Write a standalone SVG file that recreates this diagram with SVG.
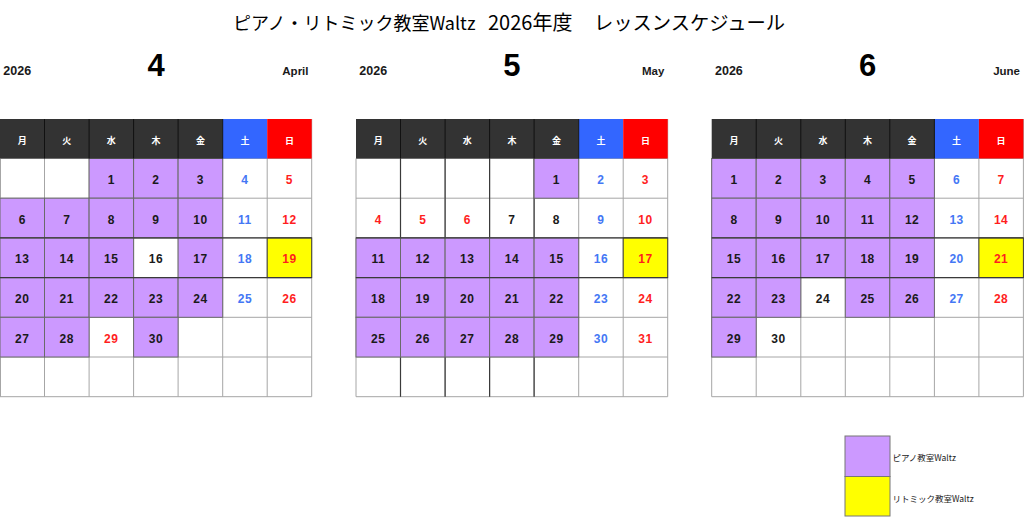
<svg xmlns="http://www.w3.org/2000/svg" width="1024" height="517" viewBox="0 0 1024 517">
<style>
.bg{fill:#ffffff}
.gl{fill:none;stroke:#a6a6a6;stroke-width:1}
.dl{fill:none;stroke:#3a3a3a;stroke-width:1.2}
.pu{fill:#CC99FF;stroke:#6a6a6a;stroke-width:1}
.ye{fill:#FFFF00;stroke:#3a3a3a;stroke-width:1}
.hd{fill:#333333}
.sa{fill:#3366FF}
.su{fill:#FF0000}
.hs{fill:none;stroke:#111111;stroke-width:1}
.ht{fill:#ffffff;font-family:"Noto Sans CJK JP","Noto Sans CJK SC",sans-serif;font-size:9px;font-weight:bold;text-anchor:middle}
.n{fill:#1a1a1a;font-family:"Liberation Sans",Arial,sans-serif;font-size:12px;font-weight:bold;text-anchor:middle;letter-spacing:0.5px}
.b{fill:#4477F5}
.r{fill:#FF1E1E}
.yr{fill:#1a1a1a;font-family:"Liberation Sans",Arial,sans-serif;font-size:12.5px;font-weight:bold}
.mn{fill:#000000;font-family:"Liberation Sans",Arial,sans-serif;font-size:31px;font-weight:bold;text-anchor:middle}
.en{fill:#1a1a1a;font-family:"Liberation Sans",Arial,sans-serif;font-size:11.5px;font-weight:bold;text-anchor:end}
.tt{fill:#000000;font-family:"Noto Sans CJK JP","Noto Sans CJK SC",sans-serif;font-size:20px}
.lg{fill:#1a1a1a;font-family:"Noto Sans CJK JP","Noto Sans CJK SC",sans-serif;font-size:8.5px}
.lb{stroke:#777777;stroke-width:1}
</style>
<rect width="1024" height="517" fill="#ffffff"/>

<g id="title">
<text class="tt" y="30"><tspan x="233" font-size="18">ピアノ・リトミック教室Waltz</tspan><tspan x="488">2026年度</tspan><tspan x="594" font-size="19.3">レッスンスケジュール</tspan></text>
</g>

<g id="april">
<text class="yr" x="3.3" y="75">2026</text>
<text class="mn" x="156" y="76">4</text>
<text class="en" x="308.5" y="75">April</text>
<rect class="bg" x="0" y="158.5" width="311.7" height="238.2"/>
<path class="gl" d="M0 158.5H311.7M0 198.2H311.7M0 237.9H311.7M0 277.6H311.7M0 317.3H311.7M0 357H311.7M0 396.7H311.7M0.5 158.5V396.7M44.5 158.5V396.7M89.1 158.5V396.7M133.6 158.5V396.7M178.1 158.5V396.7M222.7 158.5V396.7M267.2 158.5V396.7M311.7 119V396.7"/>
<rect class="pu" x="89.1" y="158.5" width="44.5" height="39.7"/>
<rect class="pu" x="133.6" y="158.5" width="44.5" height="39.7"/>
<rect class="pu" x="178.1" y="158.5" width="44.6" height="39.7"/>
<rect class="pu" x="0" y="198.2" width="44.5" height="39.7"/>
<rect class="pu" x="44.5" y="198.2" width="44.6" height="39.7"/>
<rect class="pu" x="89.1" y="198.2" width="44.5" height="39.7"/>
<rect class="pu" x="133.6" y="198.2" width="44.5" height="39.7"/>
<rect class="pu" x="178.1" y="198.2" width="44.6" height="39.7"/>
<rect class="pu" x="0" y="237.9" width="44.5" height="39.7"/>
<rect class="pu" x="44.5" y="237.9" width="44.6" height="39.7"/>
<rect class="pu" x="89.1" y="237.9" width="44.5" height="39.7"/>
<rect class="pu" x="178.1" y="237.9" width="44.6" height="39.7"/>
<rect class="ye" x="267.2" y="237.9" width="44.5" height="39.7"/>
<rect class="pu" x="0" y="277.6" width="44.5" height="39.7"/>
<rect class="pu" x="44.5" y="277.6" width="44.6" height="39.7"/>
<rect class="pu" x="89.1" y="277.6" width="44.5" height="39.7"/>
<rect class="pu" x="133.6" y="277.6" width="44.5" height="39.7"/>
<rect class="pu" x="178.1" y="277.6" width="44.6" height="39.7"/>
<rect class="pu" x="0" y="317.3" width="44.5" height="39.7"/>
<rect class="pu" x="44.5" y="317.3" width="44.6" height="39.7"/>
<rect class="pu" x="133.6" y="317.3" width="44.5" height="39.7"/>
<path class="dl" d="M0 237.9H311.7M0 277.6H311.7"/>
<rect class="hd" x="0" y="119" width="222.7" height="39.5"/>
<rect class="sa" x="222.7" y="119" width="44.5" height="39.5"/>
<rect class="su" x="267.2" y="119" width="44.5" height="39.5"/>
<path class="hs" d="M44.5 119V158.5M89.1 119V158.5M133.6 119V158.5M178.1 119V158.5M222.7 119V158.5"/>
<text class="ht" x="22.3" y="143.5">月</text>
<text class="ht" x="66.8" y="143.5">火</text>
<text class="ht" x="111.3" y="143.5">水</text>
<text class="ht" x="155.9" y="143.5">木</text>
<text class="ht" x="200.4" y="143.5">金</text>
<text class="ht" x="244.9" y="143.5">土</text>
<text class="ht" x="289.4" y="143.5">日</text>
<text class="n" x="111.3" y="184">1</text>
<text class="n" x="155.9" y="184">2</text>
<text class="n" x="200.4" y="184">3</text>
<text class="n b" x="244.9" y="184">4</text>
<text class="n r" x="289.4" y="184">5</text>
<text class="n" x="22.3" y="223.7">6</text>
<text class="n" x="66.8" y="223.7">7</text>
<text class="n" x="111.3" y="223.7">8</text>
<text class="n" x="155.9" y="223.7">9</text>
<text class="n" x="200.4" y="223.7">10</text>
<text class="n b" x="244.9" y="223.7">11</text>
<text class="n r" x="289.4" y="223.7">12</text>
<text class="n" x="22.3" y="263.4">13</text>
<text class="n" x="66.8" y="263.4">14</text>
<text class="n" x="111.3" y="263.4">15</text>
<text class="n" x="155.9" y="263.4">16</text>
<text class="n" x="200.4" y="263.4">17</text>
<text class="n b" x="244.9" y="263.4">18</text>
<text class="n r" x="289.4" y="263.4">19</text>
<text class="n" x="22.3" y="303.1">20</text>
<text class="n" x="66.8" y="303.1">21</text>
<text class="n" x="111.3" y="303.1">22</text>
<text class="n" x="155.9" y="303.1">23</text>
<text class="n" x="200.4" y="303.1">24</text>
<text class="n b" x="244.9" y="303.1">25</text>
<text class="n r" x="289.4" y="303.1">26</text>
<text class="n" x="22.3" y="342.8">27</text>
<text class="n" x="66.8" y="342.8">28</text>
<text class="n r" x="111.3" y="342.8">29</text>
<text class="n" x="155.9" y="342.8">30</text>
</g>

<g id="may">
<text class="yr" x="359.3" y="75">2026</text>
<text class="mn" x="511.9" y="76">5</text>
<text class="en" x="664.4" y="75">May</text>
<rect class="bg" x="356" y="158.5" width="311.7" height="238.2"/>
<path class="gl" d="M356 158.5H667.7M356 198.2H667.7M356 237.9H667.7M356 277.6H667.7M356 317.3H667.7M356 357H667.7M356 396.7H667.7M356 158.5V396.7M400.5 158.5V396.7M445.1 158.5V396.7M489.6 158.5V396.7M534.1 158.5V396.7M578.7 158.5V396.7M623.2 158.5V396.7M667.7 119V396.7"/>
<path class="dl" d="M400.5 158.5V396.7M445.1 158.5V396.7M489.6 158.5V396.7M534.1 158.5V396.7"/>
<rect class="pu" x="534.1" y="158.5" width="44.6" height="39.7"/>
<rect class="pu" x="356" y="237.9" width="44.5" height="39.7"/>
<rect class="pu" x="400.5" y="237.9" width="44.6" height="39.7"/>
<rect class="pu" x="445.1" y="237.9" width="44.5" height="39.7"/>
<rect class="pu" x="489.6" y="237.9" width="44.5" height="39.7"/>
<rect class="pu" x="534.1" y="237.9" width="44.6" height="39.7"/>
<rect class="ye" x="623.2" y="237.9" width="44.5" height="39.7"/>
<rect class="pu" x="356" y="277.6" width="44.5" height="39.7"/>
<rect class="pu" x="400.5" y="277.6" width="44.6" height="39.7"/>
<rect class="pu" x="445.1" y="277.6" width="44.5" height="39.7"/>
<rect class="pu" x="489.6" y="277.6" width="44.5" height="39.7"/>
<rect class="pu" x="534.1" y="277.6" width="44.6" height="39.7"/>
<rect class="pu" x="356" y="317.3" width="44.5" height="39.7"/>
<rect class="pu" x="400.5" y="317.3" width="44.6" height="39.7"/>
<rect class="pu" x="445.1" y="317.3" width="44.5" height="39.7"/>
<rect class="pu" x="489.6" y="317.3" width="44.5" height="39.7"/>
<rect class="pu" x="534.1" y="317.3" width="44.6" height="39.7"/>
<path class="dl" d="M356 237.9H667.7M356 277.6H667.7"/>
<rect class="hd" x="356" y="119" width="222.7" height="39.5"/>
<rect class="sa" x="578.7" y="119" width="44.5" height="39.5"/>
<rect class="su" x="623.2" y="119" width="44.5" height="39.5"/>
<path class="hs" d="M400.5 119V158.5M445.1 119V158.5M489.6 119V158.5M534.1 119V158.5M578.7 119V158.5"/>
<text class="ht" x="378.3" y="143.5">月</text>
<text class="ht" x="422.8" y="143.5">火</text>
<text class="ht" x="467.3" y="143.5">水</text>
<text class="ht" x="511.9" y="143.5">木</text>
<text class="ht" x="556.4" y="143.5">金</text>
<text class="ht" x="600.9" y="143.5">土</text>
<text class="ht" x="645.4" y="143.5">日</text>
<text class="n" x="556.4" y="184">1</text>
<text class="n b" x="600.9" y="184">2</text>
<text class="n r" x="645.4" y="184">3</text>
<text class="n r" x="378.3" y="223.7">4</text>
<text class="n r" x="422.8" y="223.7">5</text>
<text class="n r" x="467.3" y="223.7">6</text>
<text class="n" x="511.9" y="223.7">7</text>
<text class="n" x="556.4" y="223.7">8</text>
<text class="n b" x="600.9" y="223.7">9</text>
<text class="n r" x="645.4" y="223.7">10</text>
<text class="n" x="378.3" y="263.4">11</text>
<text class="n" x="422.8" y="263.4">12</text>
<text class="n" x="467.3" y="263.4">13</text>
<text class="n" x="511.9" y="263.4">14</text>
<text class="n" x="556.4" y="263.4">15</text>
<text class="n b" x="600.9" y="263.4">16</text>
<text class="n r" x="645.4" y="263.4">17</text>
<text class="n" x="378.3" y="303.1">18</text>
<text class="n" x="422.8" y="303.1">19</text>
<text class="n" x="467.3" y="303.1">20</text>
<text class="n" x="511.9" y="303.1">21</text>
<text class="n" x="556.4" y="303.1">22</text>
<text class="n b" x="600.9" y="303.1">23</text>
<text class="n r" x="645.4" y="303.1">24</text>
<text class="n" x="378.3" y="342.8">25</text>
<text class="n" x="422.8" y="342.8">26</text>
<text class="n" x="467.3" y="342.8">27</text>
<text class="n" x="511.9" y="342.8">28</text>
<text class="n" x="556.4" y="342.8">29</text>
<text class="n b" x="600.9" y="342.8">30</text>
<text class="n r" x="645.4" y="342.8">31</text>
</g>

<g id="june">
<text class="yr" x="715" y="75">2026</text>
<text class="mn" x="867.6" y="76">6</text>
<text class="en" x="1020" y="75">June</text>
<rect class="bg" x="711.7" y="158.5" width="311.7" height="238.2"/>
<path class="gl" d="M711.7 158.5H1023.4M711.7 198.2H1023.4M711.7 237.9H1023.4M711.7 277.6H1023.4M711.7 317.3H1023.4M711.7 357H1023.4M711.7 396.7H1023.4M711.7 158.5V396.7M756.2 158.5V396.7M800.8 158.5V396.7M845.3 158.5V396.7M889.8 158.5V396.7M934.4 158.5V396.7M978.9 158.5V396.7M1023.4 119V396.7"/>
<rect class="pu" x="711.7" y="158.5" width="44.5" height="39.7"/>
<rect class="pu" x="756.2" y="158.5" width="44.6" height="39.7"/>
<rect class="pu" x="800.8" y="158.5" width="44.5" height="39.7"/>
<rect class="pu" x="845.3" y="158.5" width="44.5" height="39.7"/>
<rect class="pu" x="889.8" y="158.5" width="44.6" height="39.7"/>
<rect class="pu" x="711.7" y="198.2" width="44.5" height="39.7"/>
<rect class="pu" x="756.2" y="198.2" width="44.6" height="39.7"/>
<rect class="pu" x="800.8" y="198.2" width="44.5" height="39.7"/>
<rect class="pu" x="845.3" y="198.2" width="44.5" height="39.7"/>
<rect class="pu" x="889.8" y="198.2" width="44.6" height="39.7"/>
<rect class="pu" x="711.7" y="237.9" width="44.5" height="39.7"/>
<rect class="pu" x="756.2" y="237.9" width="44.6" height="39.7"/>
<rect class="pu" x="800.8" y="237.9" width="44.5" height="39.7"/>
<rect class="pu" x="845.3" y="237.9" width="44.5" height="39.7"/>
<rect class="pu" x="889.8" y="237.9" width="44.6" height="39.7"/>
<rect class="ye" x="978.9" y="237.9" width="44.5" height="39.7"/>
<rect class="pu" x="711.7" y="277.6" width="44.5" height="39.7"/>
<rect class="pu" x="756.2" y="277.6" width="44.6" height="39.7"/>
<rect class="pu" x="845.3" y="277.6" width="44.5" height="39.7"/>
<rect class="pu" x="889.8" y="277.6" width="44.6" height="39.7"/>
<rect class="pu" x="711.7" y="317.3" width="44.5" height="39.7"/>
<path class="dl" d="M711.7 237.9H1023.4M711.7 277.6H1023.4"/>
<rect class="hd" x="711.7" y="119" width="222.7" height="39.5"/>
<rect class="sa" x="934.4" y="119" width="44.5" height="39.5"/>
<rect class="su" x="978.9" y="119" width="44.5" height="39.5"/>
<path class="hs" d="M756.2 119V158.5M800.8 119V158.5M845.3 119V158.5M889.8 119V158.5M934.4 119V158.5"/>
<text class="ht" x="734" y="143.5">月</text>
<text class="ht" x="778.5" y="143.5">火</text>
<text class="ht" x="823" y="143.5">水</text>
<text class="ht" x="867.6" y="143.5">木</text>
<text class="ht" x="912.1" y="143.5">金</text>
<text class="ht" x="956.6" y="143.5">土</text>
<text class="ht" x="1001.1" y="143.5">日</text>
<text class="n" x="734" y="184">1</text>
<text class="n" x="778.5" y="184">2</text>
<text class="n" x="823" y="184">3</text>
<text class="n" x="867.6" y="184">4</text>
<text class="n" x="912.1" y="184">5</text>
<text class="n b" x="956.6" y="184">6</text>
<text class="n r" x="1001.1" y="184">7</text>
<text class="n" x="734" y="223.7">8</text>
<text class="n" x="778.5" y="223.7">9</text>
<text class="n" x="823" y="223.7">10</text>
<text class="n" x="867.6" y="223.7">11</text>
<text class="n" x="912.1" y="223.7">12</text>
<text class="n b" x="956.6" y="223.7">13</text>
<text class="n r" x="1001.1" y="223.7">14</text>
<text class="n" x="734" y="263.4">15</text>
<text class="n" x="778.5" y="263.4">16</text>
<text class="n" x="823" y="263.4">17</text>
<text class="n" x="867.6" y="263.4">18</text>
<text class="n" x="912.1" y="263.4">19</text>
<text class="n b" x="956.6" y="263.4">20</text>
<text class="n r" x="1001.1" y="263.4">21</text>
<text class="n" x="734" y="303.1">22</text>
<text class="n" x="778.5" y="303.1">23</text>
<text class="n" x="823" y="303.1">24</text>
<text class="n" x="867.6" y="303.1">25</text>
<text class="n" x="912.1" y="303.1">26</text>
<text class="n b" x="956.6" y="303.1">27</text>
<text class="n r" x="1001.1" y="303.1">28</text>
<text class="n" x="734" y="342.8">29</text>
<text class="n" x="778.5" y="342.8">30</text>
</g>

<g id="legend">
<rect class="lb" x="845" y="436" width="45" height="40.5" fill="#CC99FF"/>
<rect class="lb" x="845" y="476.5" width="45" height="39.5" fill="#FFFF00"/>
<text class="lg" x="892.5" y="461">ピアノ教室Waltz</text>
<text class="lg" x="892.5" y="502">リトミック教室Waltz</text>
</g>
</svg>
